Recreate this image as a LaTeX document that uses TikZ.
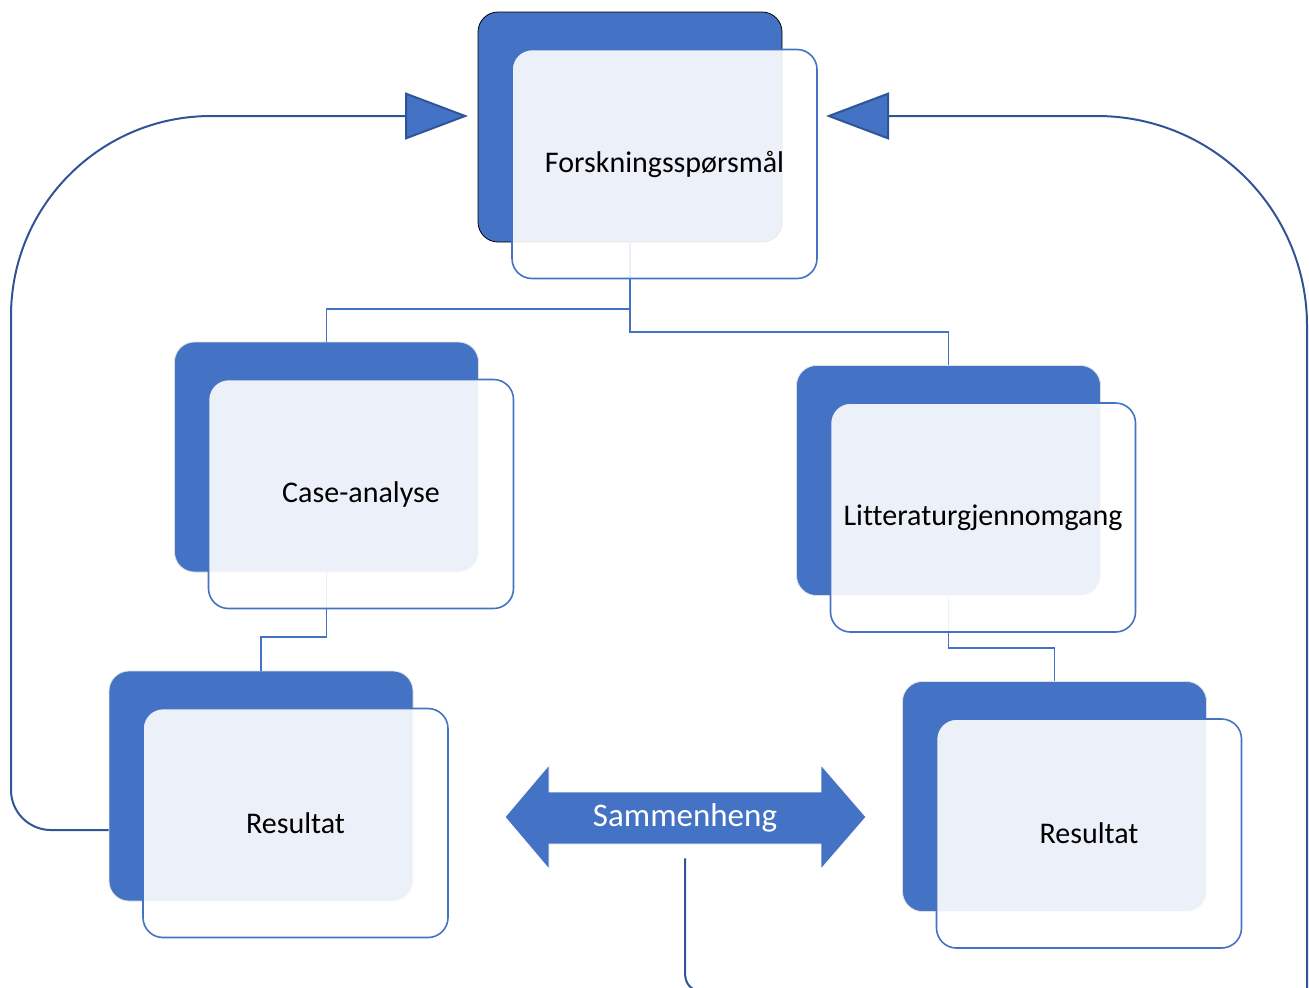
\documentclass[tikz,border=0pt]{standalone}
\usepackage{fontspec}
\setmainfont{Carlito}[Ligatures=CommonOff]
\usetikzlibrary{arrows.meta}
\definecolor{boxblue}{RGB}{68,114,196}
\definecolor{loopblue}{RGB}{47,85,151}
\begin{document}
\begin{tikzpicture}[x=.5pt,y=-.5pt,
 back/.style={fill=boxblue,rounded corners=10pt,minimum width=152pt,minimum height=115pt,inner sep=0pt},
 front/.style={fill=white,fill opacity=.9,text opacity=1,draw=boxblue,line width=.8pt,rounded corners=10pt,minimum width=152.5pt,minimum height=114.5pt,font=\fontsize{15}{18}\selectfont},
 tree/.style={draw=boxblue,line width=.8pt},
 loopline/.style={draw=loopblue,line width=1pt,-{Triangle[length=31.5pt,width=23.5pt,fill=boxblue]}}]
\useasboundingbox (0,0) rectangle (1309,987);
\clip (0,0) rectangle (1309,987);
\foreach \n/\x/\y/\c in {fq/630/127/black,ca/326.5/457/gray!25,lt/948.5/480.5/gray!25,rl/261/786/gray!25,rr/1054.5/796.5/gray!25}
 \node[back,draw=\c] (\n-b) at (\x,\y) {};
\draw[tree] (fq-b.south) -- (fq-b.south |- 0,309) -| (ca-b.north);
\draw[tree] (fq-b.south) -- (fq-b.south |- 0,332) -| (lt-b.north);
\draw[tree] (ca-b.south) -- (ca-b.south |- 0,637) -| (rl-b.north);
\draw[tree] (lt-b.south) -- (lt-b.south |- 0,648) -| (rr-b.north);
\foreach \n/\t in {fq/Forskningsspørsmål,ca/Case-analyse,lt/Litteraturgjennomgang,rl/Resultat,rr/Resultat}
 \node[front] (\n) at ([shift={(34.5,37)}]\n-b) {\t};
\fill[boxblue,draw=white] (505,817) -- (549,765) -- (549,792) -- (821,792) -- (821,765) -- (866,817) -- (821,869) -- (821,844) -- (549,844) -- (549,869) -- cycle;
\node[text=white,font=\fontsize{16.5}{20}\selectfont,minimum height=40pt] (sam) at (685,818) {Sammenheng};
\coordinate (inL) at (468,116);
\coordinate (inR) at (826,116);
\draw[loopline] (rl-b.west |- 0,830) -- (51,830) arc[start angle=90,end angle=180,radius=40] -- (11,316) arc[start angle=180,end angle=270,radius=200] -- (inL);
\draw[loopline] (sam.south) -- (685,972) .. controls (685,984) and (690,990) .. (704,993) -- (1290,1010) -- (1307,990) -- (1307,326) arc[start angle=0,end angle=-90,radius=210] -- (inR);
\end{tikzpicture}
\end{document}
